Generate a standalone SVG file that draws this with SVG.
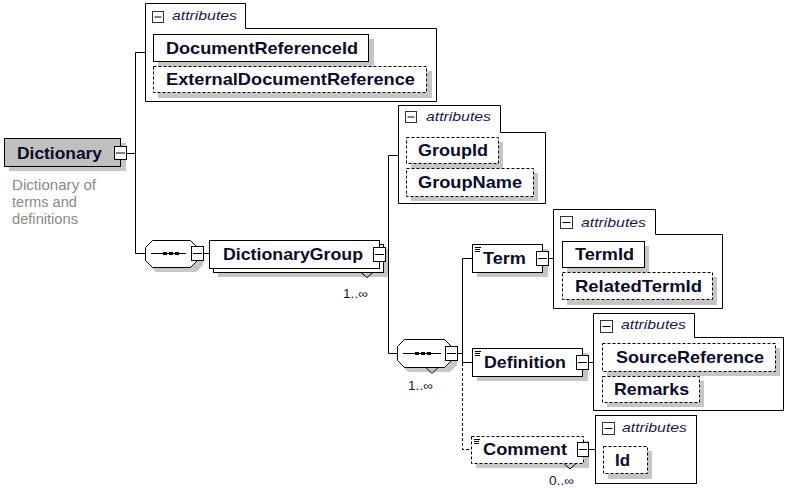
<svg xmlns="http://www.w3.org/2000/svg" width="785" height="489" viewBox="0 0 785 489">
<style>
.bg{fill:#ffffff}
.ln{fill:none;stroke:#000;stroke-width:1}
.dl{fill:none;stroke:#000;stroke-width:1;stroke-dasharray:3,2}
.sh{fill:#c6c6c6;stroke:none}
.el{fill:#fff;stroke:#000;stroke-width:1}
.eld{fill:#fff;stroke:#000;stroke-width:1;stroke-dasharray:3,2}
.root{fill:#c0c0c0;stroke:#000;stroke-width:1}
.pn{fill:#fff;stroke:#000;stroke-width:1}
.t{font-family:"Liberation Sans",Arial,sans-serif;font-weight:bold;font-size:17px;fill:#0b0b2a}
.at{font-family:"Liberation Sans",Arial,sans-serif;font-style:italic;font-size:13px;fill:#1a1a4a}
.oc{font-family:"Liberation Sans",Arial,sans-serif;font-size:12px;fill:#1a1a3a}
.ds{font-family:"Liberation Sans",Arial,sans-serif;font-size:14px;fill:#8a8a8a}
.mb{fill:#fff;stroke:#000;stroke-width:1}
.mi{fill:#fff;stroke:#333;stroke-width:1}
.ic{stroke:#000;stroke-width:1}
</style>
<rect class="bg" x="0" y="0" width="785" height="489"/>

<g id="connectors">
  <path class="ln" d="M127,153.5 H135.5 M135.5,52.5 V253.5 M135.5,52.5 H145 M135.5,253.5 H145"/>
  <path class="ln" d="M204,253.5 H209"/>
  <path class="ln" d="M385,254.5 H388.5 M388.5,155.5 V353.5 M388.5,155.5 H398 M388.5,353.5 H397"/>
  <path class="ln" d="M458,353.5 H462.5 M462.5,258.5 V362.5 M462.5,258.5 H472 M462.5,362.5 H472"/>
  <path class="dl" d="M462.5,363 V449.5 H471"/>
  <path class="ln" d="M549,258.5 H553"/>
  <path class="ln" d="M589,362.5 H593"/>
  <path class="ln" d="M589,449.5 H595"/>
</g>

<g id="Dictionary">
  <rect class="sh" x="9" y="143" width="117" height="28"/>
  <rect class="root" x="4.5" y="138.5" width="116" height="28"/>
  <text class="t" x="17" y="159" textLength="85" lengthAdjust="spacingAndGlyphs">Dictionary</text>
  <rect class="mb" x="114.5" y="146.5" width="12" height="13"/>
  <line class="ic" x1="116" y1="153" x2="125" y2="153"/>
  <text class="ds" x="12" y="190" textLength="84" lengthAdjust="spacingAndGlyphs">Dictionary of</text>
  <text class="ds" x="12" y="207" textLength="65" lengthAdjust="spacingAndGlyphs">terms and</text>
  <text class="ds" x="12" y="224" textLength="66" lengthAdjust="spacingAndGlyphs">definitions</text>
</g>

<g id="DictionaryAttributes">
  <path class="pn" d="M145.5,3.5 H245.5 V28.5 H436.5 V101.5 H145.5 Z"/>
  <rect class="mi" x="152.5" y="11.5" width="11" height="11"/>
  <line class="ic" x1="154.5" y1="17" x2="161.5" y2="17"/>
  <text class="at" x="172" y="20" textLength="65" lengthAdjust="spacingAndGlyphs">attributes</text>
  <rect class="sh" x="158" y="39" width="216" height="28"/>
  <rect class="el" x="153.5" y="34.5" width="215" height="27"/>
  <text class="t" x="166" y="54" textLength="192" lengthAdjust="spacingAndGlyphs">DocumentReferenceId</text>
  <rect class="sh" x="158" y="71" width="274" height="27"/>
  <rect class="eld" x="153.5" y="66.5" width="273" height="26"/>
  <text class="t" x="166" y="85" textLength="249" lengthAdjust="spacingAndGlyphs">ExternalDocumentReference</text>
</g>

<g id="Sequence1">
  <path class="sh" d="M156,245 H196 L203,252 V265 L196,272 H156 L149,265 V252 Z"/>
  <path class="el" d="M152.5,240.5 H190.5 L197.5,247.5 V260.5 L190.5,267.5 H152.5 L145.5,260.5 V247.5 Z"/>
  <line class="ic" x1="151" y1="253.5" x2="186" y2="253.5"/>
  <rect x="163" y="252" width="4" height="3" fill="#000"/>
  <rect x="169" y="252" width="4" height="3" fill="#000"/>
  <rect x="175" y="252" width="4" height="3" fill="#000"/>
  <rect class="mb" x="191.5" y="246.5" width="12" height="14"/>
  <line class="ic" x1="193" y1="253.5" x2="202" y2="253.5"/>
</g>

<g id="DictionaryGroup">
  <rect class="sh" x="218" y="249" width="170" height="28"/>
  <rect class="el" x="213.5" y="244.5" width="170" height="28"/>
  <rect class="el" x="209.5" y="240.5" width="170" height="28"/>
  <text class="t" x="223" y="260" textLength="140" lengthAdjust="spacingAndGlyphs">DictionaryGroup</text>
  <rect class="mb" x="373.5" y="247.5" width="12" height="14"/>
  <line class="ic" x1="375" y1="254.5" x2="384" y2="254.5"/>
  <polyline class="ln" points="361,272.5 367,277.5 373,272.5"/>
  <text class="oc" x="343" y="298" textLength="25" lengthAdjust="spacingAndGlyphs">1..∞</text>
</g>

<g id="DictionaryGroupAttributes">
  <path class="pn" d="M398.5,105.5 H500.5 V132.5 H545.5 V203.5 H398.5 Z"/>
  <rect class="mi" x="405.5" y="111.5" width="11" height="11"/>
  <line class="ic" x1="407.5" y1="117" x2="414.5" y2="117"/>
  <text class="at" x="426" y="121" textLength="65" lengthAdjust="spacingAndGlyphs">attributes</text>
  <rect class="sh" x="411" y="142" width="92" height="27"/>
  <rect class="eld" x="406.5" y="137.5" width="92" height="26"/>
  <text class="t" x="418" y="156" textLength="70" lengthAdjust="spacingAndGlyphs">GroupId</text>
  <rect class="sh" x="411" y="173" width="127" height="28"/>
  <rect class="eld" x="406.5" y="168.5" width="127" height="28"/>
  <text class="t" x="418" y="188" textLength="104" lengthAdjust="spacingAndGlyphs">GroupName</text>
</g>

<g id="Sequence2">
  <path class="sh" d="M408,344 H450 L457,351 V365 L450,372 H408 L401,365 V351 Z"/>
  <path class="el" d="M404.5,339.5 H444.5 L451.5,346.5 V360.5 L444.5,367.5 H404.5 L397.5,360.5 V346.5 Z"/>
  <polyline class="ln" points="426,367.5 432,373.5 438,367.5"/>
  <line class="ic" x1="403" y1="353.5" x2="441" y2="353.5"/>
  <rect x="415" y="352" width="4" height="3" fill="#000"/>
  <rect x="421" y="352" width="4" height="3" fill="#000"/>
  <rect x="427" y="352" width="4" height="3" fill="#000"/>
  <rect class="mb" x="445.5" y="346.5" width="12" height="14"/>
  <line class="ic" x1="447" y1="353.5" x2="456" y2="353.5"/>
  <text class="oc" x="408" y="390" textLength="25" lengthAdjust="spacingAndGlyphs">1..∞</text>
</g>

<g id="Term">
  <rect class="sh" x="477" y="249" width="71" height="28"/>
  <rect class="el" x="472.5" y="244.5" width="70" height="28"/>
  <path class="ic" d="M475,247.5 H481 M475,249.5 H480 M475,251.5 H480"/>
  <text class="t" x="483" y="264" textLength="43" lengthAdjust="spacingAndGlyphs">Term</text>
  <rect class="mb" x="536.5" y="251.5" width="12" height="14"/>
  <line class="ic" x1="538" y1="258.5" x2="547" y2="258.5"/>
</g>

<g id="TermAttributes">
  <path class="pn" d="M553.5,209.5 H655.5 V234.5 H722.5 V308.5 H553.5 Z"/>
  <rect class="mi" x="560.5" y="216.5" width="12" height="12"/>
  <line class="ic" x1="562.5" y1="222.5" x2="570.5" y2="222.5"/>
  <text class="at" x="581" y="227" textLength="65" lengthAdjust="spacingAndGlyphs">attributes</text>
  <rect class="sh" x="567" y="246" width="82" height="27"/>
  <rect class="el" x="562.5" y="241.5" width="82" height="26"/>
  <text class="t" x="575" y="260" textLength="59" lengthAdjust="spacingAndGlyphs">TermId</text>
  <rect class="sh" x="567" y="277" width="150" height="28"/>
  <rect class="eld" x="562.5" y="272.5" width="150" height="27"/>
  <text class="t" x="575" y="292" textLength="127" lengthAdjust="spacingAndGlyphs">RelatedTermId</text>
</g>

<g id="Definition">
  <rect class="sh" x="477" y="353" width="111" height="28"/>
  <rect class="el" x="472.5" y="348.5" width="110" height="28"/>
  <path class="ic" d="M475,351.5 H481 M475,353.5 H480 M475,355.5 H480"/>
  <text class="t" x="484" y="368" textLength="82" lengthAdjust="spacingAndGlyphs">Definition</text>
  <rect class="mb" x="576.5" y="355.5" width="12" height="14"/>
  <line class="ic" x1="578" y1="362.5" x2="587" y2="362.5"/>
</g>

<g id="DefinitionAttributes">
  <path class="pn" d="M593.5,313.5 H694.5 V337.5 H783.5 V410.5 H593.5 Z"/>
  <rect class="mi" x="600.5" y="320.5" width="12" height="12"/>
  <line class="ic" x1="602.5" y1="326.5" x2="610.5" y2="326.5"/>
  <text class="at" x="621" y="329" textLength="65" lengthAdjust="spacingAndGlyphs">attributes</text>
  <rect class="sh" x="607" y="348" width="173" height="28"/>
  <rect class="eld" x="602.5" y="343.5" width="173" height="28"/>
  <text class="t" x="616" y="363" textLength="148" lengthAdjust="spacingAndGlyphs">SourceReference</text>
  <rect class="sh" x="607" y="381" width="97" height="26"/>
  <rect class="eld" x="602.5" y="376.5" width="97" height="26"/>
  <text class="t" x="614" y="395" textLength="75" lengthAdjust="spacingAndGlyphs">Remarks</text>
</g>

<g id="Comment">
  <rect class="sh" x="476" y="441" width="113" height="27"/>
  <rect class="eld" x="471.5" y="436.5" width="112" height="27"/>
  <path class="ic" d="M474,439.5 H480 M474,441.5 H479 M474,443.5 H479"/>
  <text class="t" x="483" y="455" textLength="84" lengthAdjust="spacingAndGlyphs">Comment</text>
  <rect class="mb" x="577.5" y="442.5" width="11" height="14"/>
  <line class="ic" x1="579" y1="449.5" x2="587" y2="449.5"/>
  <polyline class="ln" points="564,463.5 570,469 576,463.5"/>
  <text class="oc" x="549" y="485" textLength="25" lengthAdjust="spacingAndGlyphs">0..∞</text>
</g>

<g id="CommentAttributes">
  <rect class="pn" x="595.5" y="415.5" width="101" height="68"/>
  <rect class="mi" x="602.5" y="422.5" width="12" height="12"/>
  <line class="ic" x1="604.5" y1="428.5" x2="612.5" y2="428.5"/>
  <text class="at" x="622" y="432" textLength="65" lengthAdjust="spacingAndGlyphs">attributes</text>
  <rect class="sh" x="608" y="451" width="44" height="28"/>
  <rect class="eld" x="603.5" y="446.5" width="44" height="27"/>
  <text class="t" x="615" y="466" textLength="15" lengthAdjust="spacingAndGlyphs">Id</text>
</g>
</svg>
